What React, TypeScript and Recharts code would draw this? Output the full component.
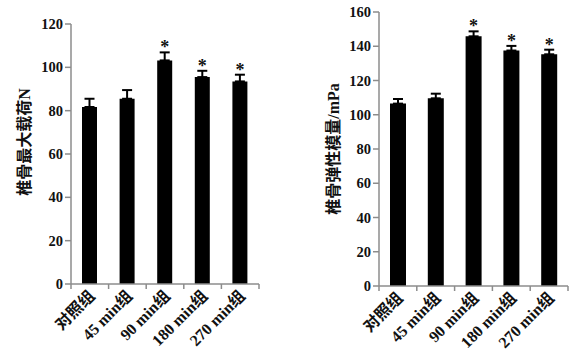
import React from 'react';
import { BarChart, Bar, XAxis, YAxis, ErrorBar, LabelList } from 'recharts';

const groups = ['对照组', '45 min组', '90 min组', '180 min组', '270 min组'];
const loadMean = [81.7, 85.5, 103.2, 95.5, 93.5];
const loadErr = [3.8, 4.0, 3.7, 2.9, 3.1];
const modMean = [106.5, 109.6, 145.8, 137.5, 135.3];
const modErr = [2.7, 2.7, 2.9, 2.7, 2.7];
const sig = [false, false, true, true, true];
const loadTicks = [0, 20, 40, 60, 80, 100, 120];
const modTicks = [0, 20, 40, 60, 80, 100, 120, 140, 160];

const loadData = groups.map((g, i) => ({ g, v: loadMean[i], e: [0, loadErr[i]] }));
const modData = groups.map((g, i) => ({ g, v: modMean[i], e: [0, modErr[i]] }));

const FONT = "'Liberation Serif', 'Noto Sans CJK SC', serif";
const AXIS = '#8c8c8c';

function XTick(props: any) {
  const { x, y, payload, index, visibleTicksCount } = props;
  const half = payload?.offset ?? 18.8;
  const ay = y - 8;
  return (
    <g>
      <line x1={x - half} y1={ay} x2={x - half} y2={ay + 5} stroke={AXIS} strokeWidth={1.5} />
      {index === visibleTicksCount - 1 && (
        <line x1={x + half} y1={ay} x2={x + half} y2={ay + 5} stroke={AXIS} strokeWidth={1.5} />
      )}
      <text
        x={x + 2}
        y={ay + 9}
        transform={`rotate(-45 ${x + 2} ${ay + 9})`}
        textAnchor="end"
        dy="0.35em"
        fontFamily={FONT}
        fontWeight="bold"
        fontSize={16}
        fill="#111"
      >
        {payload.value}
      </text>
    </g>
  );
}

function starLabel(means: number[], errs: number[]) {
  return (props: any) => {
    const { index } = props;
    if (!sig[index]) return null;
    const vb = props.viewBox ?? props;
    const x = vb.x ?? props.x;
    const y = vb.y ?? props.y;
    const w = vb.width ?? props.width;
    const h = Math.abs(vb.height ?? props.height);
    const ppu = h / means[index];
    const top = y - errs[index] * ppu;
    return (
      <text x={x + w / 2} y={top + 1} textAnchor="middle" fontFamily={FONT} fontWeight="bold" fontSize={18} fill="#111">
        *
      </text>
    );
  };
}

function yLabel(text: string, cx: number, cyShift: number) {
  return (props: any) => {
    const vb = props.viewBox;
    const cy = vb.y + vb.height / 2 + cyShift;
    return (
      <text
        x={cx}
        y={cy}
        transform={`rotate(-90 ${cx} ${cy})`}
        textAnchor="middle"
        dominantBaseline="central"
        fontFamily={FONT}
        fontWeight="bold"
        fontSize={16}
        fill="#111"
      >
        {text}
      </text>
    );
  };
}

function Panel(props: {
  data: any[];
  means: number[];
  errs: number[];
  ticks: number[];
  width: number;
  top: number;
  right: number;
  bottom: number;
  yWidth: number;
  barSize: number;
  label: string;
  labelX: number;
  labelShift: number;
}) {
  const max = props.ticks[props.ticks.length - 1];
  return (
    <BarChart
      width={props.width}
      height={356}
      data={props.data}
      margin={{ top: props.top, right: props.right, bottom: 0, left: 0 }}
    >
      <XAxis
        dataKey="g"
        interval={0}
        tickLine={false}
        tickSize={6}
        tickMargin={2}
        height={props.bottom}
        axisLine={{ stroke: AXIS, strokeWidth: 1.5 }}
        tick={<XTick />}
      />
      <YAxis
        domain={[0, max]}
        ticks={props.ticks}
        width={props.yWidth}
        tickSize={6}
        axisLine={{ stroke: AXIS, strokeWidth: 1.5 }}
        tickLine={{ stroke: AXIS, strokeWidth: 1.5 }}
        tick={{ fontFamily: FONT, fontWeight: 'bold', fontSize: 14.5, fill: '#111' }}
        label={{ content: yLabel(props.label, props.labelX, props.labelShift) }}
      />
      <Bar dataKey="v" fill="#000" barSize={props.barSize} isAnimationActive={false}>
        <ErrorBar dataKey="e" direction="y" width={5} stroke="#000" strokeWidth={2} />
        <LabelList dataKey="v" content={starLabel(props.means, props.errs)} />
      </Bar>
    </BarChart>
  );
}

export default function App() {
  return (
    <div style={{ position: 'absolute', left: 0, top: 0, width: 583, height: 356, background: '#fff', display: 'flex' }}>
      <Panel
        data={loadData}
        means={loadMean}
        errs={loadErr}
        ticks={loadTicks}
        width={290}
        top={24}
        right={31}
        bottom={72}
        yWidth={71}
        barSize={15}
        label="椎骨最大载荷N"
        labelX={24}
        labelShift={-12}
      />
      <Panel
        data={modData}
        means={modMean}
        errs={modErr}
        ticks={modTicks}
        width={293}
        top={12}
        right={15}
        bottom={70}
        yWidth={89}
        barSize={16}
        label="椎骨弹性模量/mPa"
        labelX={43}
        labelShift={0}
      />
    </div>
  );
}
